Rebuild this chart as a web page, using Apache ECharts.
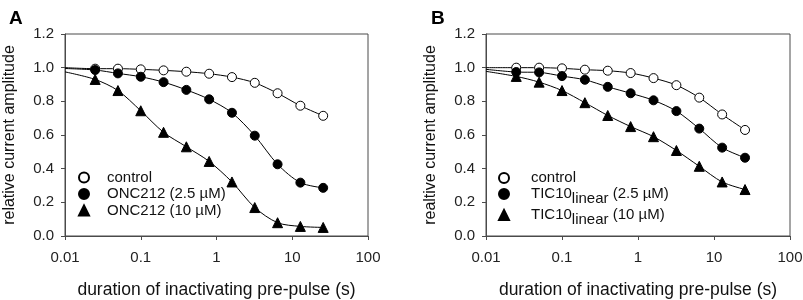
<!DOCTYPE html>
<html>
<head>
<meta charset="utf-8">
<script src="https://cdn.jsdelivr.net/npm/echarts@6/dist/echarts.min.js"></script>
<style>
  html, body { margin: 0; padding: 0; background: #fff; }
  #chart { width: 803px; height: 300px; }
</style>
</head>
<body>
<div id="chart"></div>
<script>
// pre-pulse durations (s), doubling steps
const durations = [0.025, 0.05, 0.1, 0.2, 0.4, 0.8, 1.6, 3.2, 6.4, 12.8, 25.6];
const xTickLabels = ['0.01', '0.1', '1', '10', '100'];

// panel A
const aControl = [0.994, 0.994, 0.99, 0.984, 0.976, 0.964, 0.944, 0.91, 0.848, 0.774, 0.714];
const aOnc25 = [0.986, 0.966, 0.946, 0.914, 0.868, 0.812, 0.732, 0.596, 0.426, 0.317, 0.286];
const aOnc10 = [0.93, 0.864, 0.744, 0.616, 0.53, 0.443, 0.321, 0.169, 0.079, 0.057, 0.051];
const aFitStart = [1.0, 0.995, 0.975]; // fitted curves at 0.01 s

// panel B
const bControl = [1.0, 1.0, 0.996, 0.988, 0.982, 0.968, 0.938, 0.896, 0.822, 0.722, 0.63];
const bTic25 = [0.974, 0.972, 0.95, 0.928, 0.886, 0.848, 0.806, 0.742, 0.638, 0.525, 0.465];
const bTic10 = [0.948, 0.914, 0.864, 0.792, 0.716, 0.65, 0.59, 0.508, 0.414, 0.321, 0.276];
const bFitStart = [1.0, 0.99, 0.978];

const aNames = ['control', 'ONC212 (2.5 µM)', 'ONC212 (10 µM)'];
const bNames = ['control', 'TIC10linear (2.5 µM)', 'TIC10linear (10 µM)'];

const FONT = 'Liberation Sans, Arial, sans-serif';
const AX = '#4a4a4a';

const markerStyles = [
  { symbol: 'circle', symbolSize: 9, itemStyle: { color: '#fff', borderColor: '#000', borderWidth: 1, opacity: 1 } },
  { symbol: 'circle', symbolSize: 9, itemStyle: { color: '#000', borderColor: '#000', borderWidth: 1, opacity: 1 } },
  { symbol: 'triangle', symbolSize: 10, itemStyle: { color: '#000', borderColor: '#000', borderWidth: 1, opacity: 1 } },
];

function pairs(ys) {
  return durations.map((d, i) => [d, ys[i]]);
}

function xAxis(gridIndex) {
  return {
    type: 'log', logBase: 10, gridIndex, min: 0.01, max: 100,
    name: 'duration of inactivating pre-pulse (s)', nameLocation: 'middle', nameGap: 45,
    nameTextStyle: { fontFamily: FONT, fontSize: 17.5, color: '#111' },
    axisLine: { lineStyle: { color: AX } },
    axisTick: { length: 4, lineStyle: { color: AX } },
    minorTick: { show: false },
    splitLine: { show: false },
    axisLabel: {
      fontFamily: FONT, fontSize: 15, color: '#222', margin: 14,
      formatter: (v) => xTickLabels[Math.round(Math.log10(v)) + 2],
    },
  };
}

function yAxis(gridIndex, name) {
  return {
    type: 'value', gridIndex, min: 0, max: 1.2, interval: 0.2,
    name, nameLocation: 'middle', nameGap: 47, nameRotate: 90,
    nameTextStyle: { fontFamily: FONT, fontSize: 16, color: '#111' },
    axisLine: { show: true, lineStyle: { color: AX } },
    axisTick: { show: true, length: 4, lineStyle: { color: AX } },
    splitLine: { show: false },
    axisLabel: { fontFamily: FONT, fontSize: 15, color: '#222', margin: 11, formatter: (v) => v.toFixed(1) },
  };
}

function panelSeries(idx, names, sets, starts) {
  const out = [];
  sets.forEach((ys, i) => {
    out.push({
      type: 'line', xAxisIndex: idx, yAxisIndex: idx, smooth: 0.3, symbol: 'none',
      lineStyle: { color: '#000', width: 1 }, silent: true, z: 2,
      data: [[0.01, starts[i]]].concat(pairs(ys)),
    });
    out.push(Object.assign({
      type: 'scatter', name: names[i], xAxisIndex: idx, yAxisIndex: idx, z: 3,
      data: pairs(ys),
    }, markerStyles[i]));
  });
  return out;
}

const legendRich = {
  a: { fontFamily: FONT, fontSize: 15, color: '#111', verticalAlign: 'top', lineHeight: 16 },
  s: { fontFamily: FONT, fontSize: 15, color: '#111', verticalAlign: 'top', lineHeight: 16, padding: [5, 0, 0, 0] },
};

const chart = echarts.init(document.getElementById('chart'), null, { renderer: 'canvas' });

chart.setOption({
  animation: false,
  title: [
    { text: 'A', left: 4, top: 4, textStyle: { fontFamily: FONT, fontSize: 19, fontWeight: 'bold', color: '#000' } },
    { text: 'B', left: 426, top: 4, textStyle: { fontFamily: FONT, fontSize: 19, fontWeight: 'bold', color: '#000' } },
  ],
  grid: [
    { left: 65, top: 34, width: 303, height: 202, outerBoundsMode: 'none', containLabel: false,
      show: true, borderColor: AX, borderWidth: 1, backgroundColor: 'transparent' },
    { left: 486, top: 34, width: 304, height: 202, outerBoundsMode: 'none', containLabel: false,
      show: true, borderColor: AX, borderWidth: 1, backgroundColor: 'transparent' },
  ],
  legend: [
    {
      data: aNames, left: 73, top: 165, orient: 'vertical', itemGap: 1.5,
      itemWidth: 10, itemHeight: 10, selectedMode: false,
      textStyle: { fontFamily: FONT, fontSize: 15, lineHeight: 15, color: '#111', padding: [0, 0, 0, 13] },
    },
    {
      data: bNames, left: 493, top: 165, orient: 'vertical', itemGap: 1,
      itemWidth: 10, itemHeight: 10, selectedMode: false,
      formatter: (n) => n.startsWith('TIC10linear')
        ? '{a|TIC10}{s|linear}{a|' + n.slice(11) + '}'
        : '{a|' + n + '}',
      textStyle: { fontFamily: FONT, fontSize: 15, color: '#111', padding: [0, 0, 0, 17], rich: legendRich },
    },
  ],
  xAxis: [xAxis(0), xAxis(1)],
  yAxis: [yAxis(0, 'relative current amplitude'), yAxis(1, 'realtive current amplitude')],
  series: panelSeries(0, aNames, [aControl, aOnc25, aOnc10], aFitStart)
    .concat(panelSeries(1, bNames, [bControl, bTic25, bTic10], bFitStart)),
});
</script>
</body>
</html>
